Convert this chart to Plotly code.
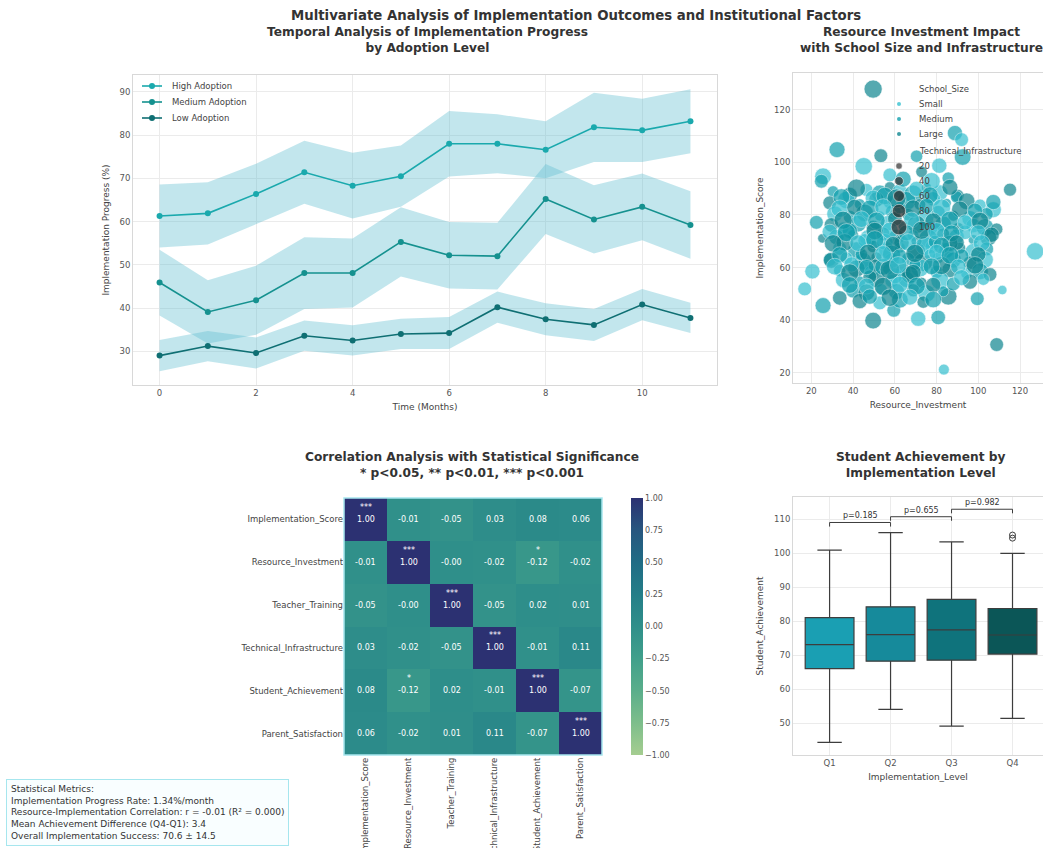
import plotly.graph_objects as go

# ---------------- data ----------------
months = [0, 1, 2, 3, 4, 5, 6, 7, 8, 9, 10, 11]
high_mean = [61.3, 61.9, 66.4, 71.4, 68.3, 70.5, 78.0, 78.0, 76.6, 81.8, 81.1, 83.2]
high_std = [7.3, 7.2, 7.0, 7.3, 7.6, 7.1, 7.6, 6.8, 6.6, 8.0, 7.3, 7.4]
medium_mean = [45.9, 39.1, 41.8, 48.1, 48.1, 55.3, 52.2, 52.0, 65.2, 60.5, 63.4, 59.2]
medium_std = [7.6, 7.3, 8.0, 8.3, 8.0, 8.0, 7.7, 7.7, 8.1, 7.9, 7.7, 7.8]
low_mean = [29.0, 31.2, 29.6, 33.6, 32.5, 34.0, 34.2, 40.2, 37.4, 36.1, 40.8, 37.7]
low_std = [3.6, 3.5, 3.6, 3.5, 3.5, 3.5, 3.7, 3.6, 3.7, 3.7, 3.6, 3.5]
adoption_names = ["High Adoption", "Medium Adoption", "Low Adoption"]

resource_investment = [
    49.6, 88.8, 92.0, 92.5, 32.3, 53.3, 45.1, 70.4, 81.3, 25.6, 24.8, 115.2, 127.2, 22.4, 25.3, 20.5,
    16.8, 25.6, 33.6, 28.8, 49.6, 59.5, 71.2, 80.8, 83.5, 108.8, 99.5, 111.5, 85.6, 107.2, 85.6, 90.0,
    30.4, 38.4, 46.4, 52.8, 57.6, 62.4, 68.8, 75.2, 81.6, 89.6,
    28.8, 36.8, 43.2, 51.2, 57.6, 65.6, 72.0, 78.4, 84.8, 94.4, 100.8, 107.2,
    31.2, 38.4, 45.6, 52.8, 59.2, 66.4, 74.4, 80.8, 88.0, 96.0, 104.0,
    29.6, 35.2, 42.4, 49.6, 56.8, 64.0, 70.4, 77.6, 83.2, 90.4, 97.6, 103.2, 108.8,
    32.0, 40.0, 47.2, 54.4, 60.8, 68.8, 76.0, 83.2, 89.6, 97.6, 104.8,
    33.6, 41.6, 49.6, 56.0, 62.4, 70.4, 77.6, 84.8, 91.2, 97.6, 104.0,
    29.6, 36.8, 44.8, 51.2, 58.4, 66.4, 73.6, 80.8, 88.0, 96.0, 103.2,
    33.6, 41.6, 48.8, 56.8, 64.0, 72.0, 80.0, 86.4, 94.4, 100.8, 105.6,
    35.2, 43.2, 51.2, 58.4, 65.6, 72.8, 81.6, 88.0, 96.0, 102.4,
    40.0, 46.4, 53.6, 60.8, 68.8, 75.2, 83.2,
    43.2, 52.8, 62.4, 73.6,
    57.6, 64.0, 72.8, 77.6, 60.0, 62.4, 55.2, 63.2, 58.4, 50.4, 60.0, 69.6, 67.2, 45.6, 38.4, 70.4,
    74.4, 79.2, 86.4, 93.6, 36.0, 44.0, 39.2, 48.0, 54.4, 57.6, 76.8, 92.0, 82.4,
    34.4, 41.6, 49.6, 55.2, 60.8, 70.4, 76.8, 86.4,
    33.6, 40.8, 48.0, 54.4, 68.8, 75.2, 82.4, 91.2, 98.4,
    35.2, 44.0, 51.2, 68.0, 78.4, 86.4, 93.6, 100.8,
    28.8, 36.8, 50.4, 57.6, 65.6, 72.8, 80.0, 87.2, 100.0, 106.4,
    30.4, 42.4, 50.4, 59.2, 66.4, 82.4, 89.6, 101.6,
    33.6, 47.2, 54.4, 62.4, 69.6, 80.0, 86.4, 100.0,
    31.2, 38.4, 46.4, 61.6, 68.8, 77.6, 90.4, 98.4,
    38.4, 46.4, 54.4, 62.4, 70.4, 78.4, 92.0,
    48.0, 57.6, 67.2, 78.4,
]
implementation_score = [
    127.8, 111.1, 108.6, 102.0, 104.8, 102.5, 98.5, 102.3, 98.7, 94.7, 92.8, 89.6, 66.2, 77.2, 71.1, 58.6,
    51.9, 45.6, 48.5, 63.0, 39.9, 43.8, 40.6, 41.1, 21.3, 30.8, 48.2, 51.5, 49.1, 82.0, 94.0, 87.3,
    88.9, 87.6, 89.5, 88.2, 90.6, 89.1, 87.9, 90.3, 88.4, 86.8,
    84.6, 85.7, 84.1, 85.9, 84.8, 85.3, 84.0, 86.1, 84.5, 85.2, 83.7, 84.9,
    80.4, 79.3, 80.8, 79.6, 81.2, 80.1, 79.0, 81.0, 79.7, 78.6, 80.3,
    76.2, 75.1, 76.7, 75.4, 76.9, 75.8, 76.4, 75.2, 76.6, 74.9, 76.0, 75.3, 74.6,
    71.6, 72.4, 71.2, 72.8, 71.5, 72.2, 71.0, 72.6, 71.8, 70.6, 71.4,
    67.3, 66.5, 68.0, 66.8, 67.6, 66.2, 67.9, 66.6, 67.4, 66.0, 67.1,
    62.8, 63.6, 62.4, 63.9, 62.6, 63.3, 62.1, 63.7, 62.9, 61.8, 63.0,
    58.9, 59.6, 58.2, 59.4, 58.7, 59.9, 58.4, 59.2, 57.8, 58.6, 57.4,
    55.3, 54.6, 55.8, 54.9, 55.5, 54.3, 55.1, 53.8, 54.7, 55.6,
    51.2, 50.6, 51.7, 50.9, 51.4, 50.2, 51.0,
    47.3, 46.6, 47.8, 46.9,
    95.2, 93.6, 96.4, 92.8, 78.5, 82.7, 69.8, 69.4, 65.1, 60.8, 56.9, 61.2, 57.3, 70.3, 74.0, 70.0,
    68.3, 69.8, 69.2, 73.4, 69.6, 65.0, 61.2, 56.5, 60.3, 59.2, 64.9, 64.4, 60.8,
    86.8, 90.2, 86.4, 87.2, 86.3, 89.9, 87.5, 90.5,
    82.4, 82.9, 82.2, 83.0, 82.4, 83.4, 82.6, 82.1, 81.6,
    78.0, 78.4, 77.8, 78.1, 77.6, 78.0, 77.2, 77.7,
    73.6, 73.3, 73.9, 74.1, 73.2, 74.2, 73.8, 73.0, 73.2, 72.5,
    69.2, 69.3, 70.6, 68.8, 69.6, 68.4, 69.5, 69.3,
    64.9, 65.6, 65.2, 64.2, 65.4, 65.8, 64.7, 65.0,
    60.4, 58.0, 60.2, 60.9, 58.2, 60.5, 60.4, 60.9,
    53.4, 53.0, 52.9, 53.6, 53.0, 53.4, 56.2,
    49.0, 48.6, 48.8, 47.9,
]
school_size = [
    "Large", "Medium", "Small", "Medium", "Medium", "Large", "Small", "Medium", "Small", "Small", "Medium",
    "Large", "Small", "Medium", "Large", "Small", "Small", "Medium", "Large", "Medium", "Large", "Medium",
    "Small", "Medium", "Small", "Large", "Medium", "Small", "Large", "Small", "Medium", "Large",
    "Medium", "Large", "Small", "Medium", "Large", "Small", "Medium", "Large", "Small", "Medium",
    "Large", "Small", "Medium", "Large", "Small", "Medium", "Large", "Small", "Medium", "Large", "Small", "Medium",
    "Small", "Medium", "Large", "Small", "Medium", "Large", "Small", "Medium", "Large", "Small", "Medium",
    "Large", "Small", "Medium", "Large", "Small", "Medium", "Large", "Small", "Medium", "Large", "Small",
    "Medium", "Large",
    "Medium", "Large", "Small", "Medium", "Large", "Small", "Medium", "Large", "Small", "Medium", "Large",
    "Small", "Medium", "Large", "Small", "Medium", "Large", "Small", "Medium", "Large", "Small", "Medium",
    "Large", "Small", "Medium", "Large", "Small", "Medium", "Large", "Small", "Medium", "Large", "Small",
    "Medium", "Large", "Small", "Medium", "Large", "Small", "Medium", "Large", "Small", "Medium", "Large",
    "Small", "Medium", "Large", "Small", "Medium", "Large", "Small", "Medium", "Large", "Small",
    "Medium", "Large", "Small", "Medium", "Large", "Small", "Medium",
    "Large", "Small", "Medium", "Large",
    "Small", "Medium", "Large", "Small", "Large", "Medium", "Small", "Large", "Medium", "Large", "Small",
    "Medium", "Large", "Small", "Medium", "Large", "Small", "Medium", "Large", "Small", "Large", "Medium",
    "Small", "Large", "Medium", "Large", "Small", "Medium", "Large",
    "Medium", "Large", "Small", "Medium", "Large", "Small", "Medium", "Large",
    "Small", "Large", "Medium", "Small", "Large", "Medium", "Small", "Large", "Medium",
    "Large", "Small", "Medium", "Small", "Large", "Medium", "Small", "Large",
    "Small", "Medium", "Large", "Small", "Medium", "Large", "Small", "Medium", "Small", "Large",
    "Large", "Small", "Medium", "Large", "Small", "Medium", "Large", "Small",
    "Medium", "Large", "Small", "Medium", "Large", "Small", "Medium", "Large",
    "Small", "Large", "Medium", "Small", "Large", "Medium", "Small", "Large",
    "Medium", "Small", "Large", "Small", "Medium", "Large", "Small",
    "Medium", "Large", "Small", "Medium",
]
technical_infrastructure = [
    90, 70, 60, 80, 75, 60, 85, 50, 70, 80, 60, 55, 85, 60, 30, 70,
    60, 75, 65, 55, 80, 60, 70, 65, 40, 60, 60, 30, 85, 75, 50, 55,
    45, 70, 55, 80, 40, 65, 90, 35, 75, 50,
    60, 85, 40, 70, 55, 95, 45, 65, 30, 80, 50, 70,
    75, 55, 85, 35, 70, 50, 90, 60, 40, 75, 55,
    65, 45, 80, 60, 70, 35, 90, 55, 75, 45, 65, 85, 50,
    70, 40, 80, 60, 75, 45, 95, 55, 70, 35, 80,
    60, 85, 50, 75, 40, 90, 55, 70, 45, 80, 60,
    75, 50, 85, 40, 70, 55, 95, 45, 75, 60, 80,
    50, 85, 65, 40, 70, 90, 55, 75, 45, 80, 60,
    70, 45, 85, 55, 75, 40, 90, 60, 70, 50,
    65, 80, 45, 75, 55, 85, 40,
    70, 60, 80, 50,
    60, 75, 45, 85, 65, 50, 80, 70, 90, 55, 75, 45, 85, 60, 70, 40,
    95, 55, 75, 65, 85, 50, 70, 60, 80, 100, 45, 65, 90,
    80, 90, 75, 85, 95, 70, 80, 75,
    85, 75, 90, 80, 85, 70, 90, 80, 70,
    90, 80, 85, 75, 80, 90, 70, 85,
    70, 90, 85, 80, 75, 90, 85, 80, 75, 70,
    85, 80, 90, 75, 85, 80, 70, 80,
    75, 85, 80, 70, 90, 75, 85, 70,
    80, 90, 70, 85, 75, 80, 70, 85,
    80, 75, 90, 80, 85, 70, 75,
    70, 85, 75, 80,
]
size_levels = ["Small", "Medium", "Large"]
infra_legend_values = [20, 40, 60, 80, 100]

corr_vars = ["Implementation_Score", "Resource_Investment", "Teacher_Training",
             "Technical_Infrastructure", "Student_Achievement", "Parent_Satisfaction"]
corr_values = [
    [1.00, -0.01, -0.05, 0.03, 0.08, 0.06],
    [-0.01, 1.00, -0.004, -0.02, -0.12, -0.02],
    [-0.05, -0.004, 1.00, -0.05, 0.02, 0.01],
    [0.03, -0.02, -0.05, 1.00, -0.01, 0.11],
    [0.08, -0.12, 0.02, -0.01, 1.00, -0.07],
    [0.06, -0.02, 0.01, 0.11, -0.07, 1.00],
]
corr_stars = [
    ["***", "", "", "", "", ""],
    ["", "***", "", "", "*", ""],
    ["", "", "***", "", "", ""],
    ["", "", "", "***", "", ""],
    ["", "*", "", "", "***", ""],
    ["", "", "", "", "", "***"],
]
colorbar_ticks = [1.0, 0.75, 0.5, 0.25, 0.0, -0.25, -0.5, -0.75, -1.0]

impl_levels = ["Q1", "Q2", "Q3", "Q4"]
ach_lower = [44.3, 54.0, 49.1, 51.4]
ach_q1 = [66.0, 68.2, 68.5, 70.3]
ach_median = [73.1, 76.0, 77.4, 75.9]
ach_q3 = [81.0, 84.2, 86.4, 83.7]
ach_upper = [100.9, 106.0, 103.3, 99.9]
outlier_level = [3, 3]
outlier_values = [105.3, 104.4]
pair_left = [0, 1, 2]
pair_right = [1, 2, 3]
pair_height = [109.0, 110.7, 112.9]
pair_pvalue = [0.185, 0.655, 0.982]

stats_lines = [
    "Statistical Metrics:",
    "Implementation Progress Rate: 1.34%/month",
    "Resource-Implementation Correlation: r = -0.01 (R² = 0.000)",
    "Mean Achievement Difference (Q4-Q1): 3.4",
    "Overall Implementation Success: 70.6 ± 14.5",
]

# ---------------- styling ----------------
W, H = 1043, 848
FONT = "DejaVu Sans"
TICK = dict(family=FONT, size=8.5, color="#555555")
AXT = dict(family=FONT, size=9, color="#444444")
LEGF = dict(family=FONT, size=8.5, color="#444444")
GRID = "#ebebeb"
FRAME = "#d8d8d8"


def fx(p):
    return p / W


def fy(p):
    return 1 - p / H


line_colors = ["#1aa9ad", "#15918f", "#0f6f73"]
band_fill = "rgba(95,190,208,0.38)"
size_colors = {"Small": "#36c0d0", "Medium": "#12a0ae", "Large": "#0e8690"}
box_colors = ["#1a9fb3", "#168a9b", "#0f737c", "#0b5657"]
crest = [
    [0.0, "#a5cd90"], [0.125, "#7dbe8b"], [0.25, "#5aae8b"], [0.375, "#41a08b"],
    [0.5, "#2f8f8a"], [0.625, "#247e88"], [0.75, "#206c85"], [0.875, "#27567f"],
    [1.0, "#2c3172"],
]


def infra_to_px(v):
    return 8 + (v - 20) * 0.145


def pixel_circle(cx, cy, r, **style):
    return dict(type="circle", xref="paper", yref="paper",
                xsizemode="pixel", ysizemode="pixel",
                xanchor=fx(cx), yanchor=fy(cy), x0=-r, x1=r, y0=-r, y1=r, **style)


def legend_text(x, y, text):
    return dict(x=fx(x), y=fy(y), xref="paper", yref="paper", xanchor="left",
                yanchor="middle", showarrow=False, text=text, font=LEGF)


fig = go.Figure()
annotations = []
shapes = []

# ---------- temporal progress lines with bands ----------
for name, mean, std in zip(adoption_names, [high_mean, medium_mean, low_mean],
                           [high_std, medium_std, low_std]):
    upper = [m + s for m, s in zip(mean, std)]
    lower = [m - s for m, s in zip(mean, std)]
    fig.add_trace(go.Scatter(
        x=months + months[::-1], y=upper + lower[::-1], fill="toself",
        fillcolor=band_fill, line=dict(width=0), hoverinfo="skip",
        showlegend=False, xaxis="x", yaxis="y"))
for name, mean, col in zip(adoption_names, [high_mean, medium_mean, low_mean], line_colors):
    fig.add_trace(go.Scatter(
        x=months, y=mean, mode="lines+markers", name=name,
        line=dict(color=col, width=1.6), marker=dict(color=col, size=6),
        showlegend=False, xaxis="x", yaxis="y"))

# line legend (upper-left inside the plot)
line_leg_y = [86, 102, 118]
for name, col, yy in zip(adoption_names, line_colors, line_leg_y):
    shapes.append(dict(type="line", xref="paper", yref="paper",
                       x0=fx(142), x1=fx(162), y0=fy(yy), y1=fy(yy),
                       line=dict(color=col, width=1.6)))
    shapes.append(pixel_circle(152, yy, 3, fillcolor=col, line=dict(width=0)))
    annotations.append(legend_text(170, yy, name))

# ---------- resource scatter ----------
fig.add_trace(go.Scatter(
    x=resource_investment, y=implementation_score, mode="markers",
    marker=dict(color=[size_colors[s] for s in school_size],
                size=[infra_to_px(v) for v in technical_infrastructure],
                opacity=0.7, line=dict(color="white", width=0.6)),
    showlegend=False, xaxis="x2", yaxis="y2"))

# scatter legend: hue block then size block
LEG_X_MARK, LEG_X_TEXT = 899, 917
leg_rows = (["School_Size"] + size_levels + ["Technical_Infrastructure"]
            + [str(v) for v in infra_legend_values])
leg_y = [89, 104, 119, 134, 151, 166, 181, 196, 211, 227]
for label, yy in zip(leg_rows, leg_y):
    annotations.append(legend_text(LEG_X_TEXT, yy, label))
for k, lvl in enumerate(size_levels):
    shapes.append(pixel_circle(LEG_X_MARK, leg_y[1 + k], 2,
                               fillcolor=size_colors[lvl], line=dict(width=0), opacity=0.8))
for k, v in enumerate(infra_legend_values):
    shapes.append(pixel_circle(LEG_X_MARK, leg_y[5 + k], infra_to_px(v) / 2 * 0.8,
                               fillcolor="rgba(45,45,45,0.7)",
                               line=dict(color="white", width=0.5)))

# ---------- correlation heatmap ----------
fig.add_trace(go.Heatmap(
    z=corr_values, x=corr_vars, y=corr_vars, colorscale=crest, zmin=-1, zmax=1,
    xaxis="x3", yaxis="y3", showscale=True, hoverinfo="skip",
    colorbar=dict(
        x=fx(631), xanchor="left", y=fy(626.5), yanchor="middle", xpad=0, ypad=0,
        len=257 / H, lenmode="fraction", thickness=12, outlinewidth=0,
        tickvals=colorbar_ticks,
        ticktext=[f"{t:.2f}".replace("-", "\u2212") for t in colorbar_ticks],
        tickfont=dict(family=FONT, size=8, color="#555555"), ticks="")))

for i, row in enumerate(corr_values):
    for j, v in enumerate(row):
        annotations.append(dict(
            x=corr_vars[j], y=corr_vars[i], xref="x3", yref="y3", text=f"{v:.2f}",
            showarrow=False, font=dict(family=FONT, size=8, color="white")))
        if corr_stars[i][j]:
            annotations.append(dict(
                x=corr_vars[j], y=corr_vars[i], xref="x3", yref="y3", text=corr_stars[i][j],
                showarrow=False, yshift=12, font=dict(family=FONT, size=8, color="white")))

# ---------- achievement boxes ----------
for i, lvl in enumerate(impl_levels):
    fig.add_trace(go.Box(
        x=[i], q1=[ach_q1[i]], median=[ach_median[i]], q3=[ach_q3[i]],
        lowerfence=[ach_lower[i]], upperfence=[ach_upper[i]],
        fillcolor=box_colors[i], line=dict(color="#3d3d3d", width=1.2),
        width=0.8, whiskerwidth=0.5, boxpoints=False, showlegend=False,
        hoverinfo="skip", xaxis="x4", yaxis="y4"))
fig.add_trace(go.Scatter(
    x=outlier_level, y=outlier_values, mode="markers",
    marker=dict(symbol="circle-open", size=6, color="#3d3d3d", line=dict(width=1)),
    showlegend=False, xaxis="x4", yaxis="y4"))

for a, b, h, p in zip(pair_left, pair_right, pair_height, pair_pvalue):
    shapes.append(dict(type="path", xref="x4", yref="y4",
                       path=f"M {a},{h - 1.2} L {a},{h} L {b},{h} L {b},{h - 1.2}",
                       line=dict(color="#3d3d3d", width=1)))
    annotations.append(dict(x=(a + b) / 2, y=h, xref="x4", yref="y4", text=f"p={p:.3f}",
                            showarrow=False, xanchor="center", yanchor="bottom",
                            font=dict(family=FONT, size=8, color="#333333")))

# heatmap outline
shapes.append(dict(type="rect", xref="paper", yref="paper",
                   x0=fx(344), x1=fx(602), y0=fy(755), y1=fy(498),
                   line=dict(color="#a6e6ee", width=1.5)))

# ---------- titles ----------
TITLE = dict(family=FONT, size=12.2, color="#333333")


def title_note(xp, yp, text, font):
    return dict(x=fx(xp), y=fy(yp), xref="paper", yref="paper", showarrow=False,
                xanchor="center", yanchor="middle", text=text, font=font)


annotations += [
    title_note(576, 15, "<b>Multivariate Analysis of Implementation Outcomes and Institutional Factors</b>",
               dict(family=FONT, size=13.3, color="#333333")),
    title_note(427, 40, "<b>Temporal Analysis of Implementation Progress<br>by Adoption Level</b>", TITLE),
    title_note(921, 40, "<b>Resource Investment Impact<br>with School Size and Infrastructure</b>", TITLE),
    title_note(472, 465, "<b>Correlation Analysis with Statistical Significance<br>"
                         "* p<0.05, ** p<0.01, *** p<0.001</b>", TITLE),
    title_note(920, 465, "<b>Student Achievement by<br>Implementation Level</b>", TITLE),
    dict(x=fx(6), y=fy(779), xref="paper", yref="paper", xanchor="left", yanchor="top",
         showarrow=False, align="left", text="<br>".join(stats_lines),
         font=dict(family=FONT, size=9, color="#333333"),
         bordercolor="#a6e6ee", borderwidth=1, borderpad=4, bgcolor="rgba(248,254,255,0.9)"),
]


def axis(domain, rng=None, **kw):
    d = dict(domain=domain, showgrid=True, gridcolor=GRID, zeroline=False,
             showline=True, linecolor=FRAME, mirror=True, ticks="",
             tickfont=TICK, automargin=False)
    if rng is not None:
        d["range"] = rng
    d.update(kw)
    return d


fig.update_layout(
    width=W, height=H, margin=dict(l=0, r=0, t=0, b=0),
    paper_bgcolor="white", plot_bgcolor="white",
    font=dict(family=FONT), showlegend=False,
    xaxis=axis([fx(133), fx(717)], [-0.55, 11.55], tickvals=[0, 2, 4, 6, 8, 10],
               title=dict(text="Time (Months)", font=AXT, standoff=6), anchor="y"),
    yaxis=axis([fy(385), fy(75)], [22.2, 93.9], tickvals=[30, 40, 50, 60, 70, 80, 90],
               title=dict(text="Implementation Progress (%)", font=AXT, standoff=8), anchor="x"),
    xaxis2=axis([fx(793), 1.0], [11.2, 131], tickvals=[20, 40, 60, 80, 100, 120],
                title=dict(text="Resource_Investment", font=AXT, standoff=6), anchor="y2"),
    yaxis2=axis([fy(383), fy(73)], [16.2, 133.9], tickvals=[20, 40, 60, 80, 100, 120],
                title=dict(text="Implementation_Score", font=AXT, standoff=8), anchor="x2"),
    xaxis3=dict(domain=[fx(344), fx(602)], anchor="y3", tickangle=-90, showgrid=False,
                zeroline=False, showline=False, ticks="", automargin=False,
                tickfont=dict(family=FONT, size=8.5, color="#444444")),
    yaxis3=dict(domain=[fy(755), fy(498)], anchor="x3", autorange="reversed", showgrid=False,
                zeroline=False, showline=False, ticks="", automargin=False,
                tickfont=dict(family=FONT, size=8.5, color="#444444")),
    xaxis4=axis([fx(793), 1.0], [-0.6, 3.5], tickvals=[0, 1, 2, 3], ticktext=impl_levels,
                title=dict(text="Implementation_Level", font=AXT, standoff=6), anchor="y4"),
    yaxis4=axis([fy(755), fy(497)], [40.6, 116.5], tickvals=[50, 60, 70, 80, 90, 100, 110],
                title=dict(text="Student_Achievement", font=AXT, standoff=8), anchor="x4"),
    annotations=annotations, shapes=shapes,
)

fig.write_html("out.html")
